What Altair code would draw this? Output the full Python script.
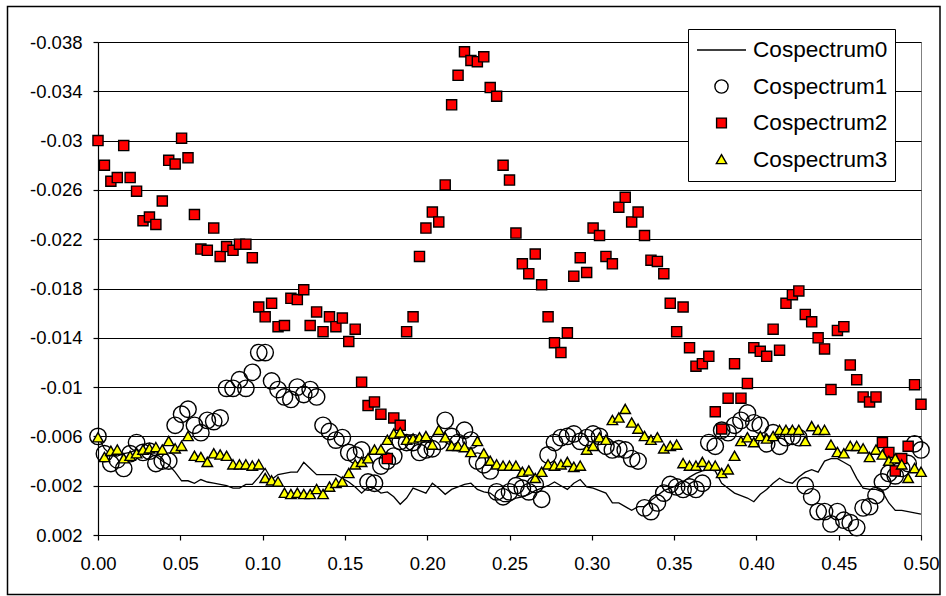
import altair as alt
import pandas as pd

# ---------------- data ----------------
SERIES = ["Cospectrum0", "Cospectrum1", "Cospectrum2", "Cospectrum3"]

# frequency grid: 129 evenly spaced points from 0 to 0.5
FREQ = [i / 256 for i in range(129)]

X_TICKS = [0.0, 0.05, 0.10, 0.15, 0.20, 0.25, 0.30, 0.35, 0.40, 0.45, 0.50]
Y_TICKS = [-0.038, -0.034, -0.030, -0.026, -0.022, -0.018, -0.014,
           -0.010, -0.006, -0.002, 0.002]

COSPEC0 = [
    -0.0060, -0.0050, -0.0045, -0.0044, -0.0046, -0.0047, -0.0049, -0.0047, -0.0046, -0.0044,
    -0.0040, -0.0037, -0.0031, -0.0024, -0.0024, -0.0022, -0.0025, -0.0023, -0.0022, -0.0021,
    -0.0020, -0.0018, -0.0018, -0.0021, -0.0021, -0.0027, -0.0034, -0.0025, -0.0029, -0.0030,
    -0.0031, -0.0031, -0.0039, -0.0034, -0.0029, -0.0029, -0.0029, -0.0029, -0.0026, -0.0023,
    -0.0019, -0.0014, -0.0019, -0.0018, -0.0014, -0.0015, -0.0011, -0.0005, -0.0010, -0.0018,
    -0.0016, -0.0014, -0.0022, -0.0018, -0.0013, -0.0017, -0.0019, -0.0021, -0.0022, -0.0017,
    -0.0015, -0.0014, -0.0010, -0.0007, -0.0007, -0.0010, -0.0011, -0.0013, -0.0016, -0.0018,
    -0.0020, -0.0023, -0.0020, -0.0017, -0.0022, -0.0025, -0.0019, -0.0018, -0.0016, -0.0014,
    -0.0006, -0.0006, -0.0003, 0.0000, -0.0003, -0.0003, -0.0008, -0.0012, -0.0016, -0.0018,
    -0.0020, -0.0023, -0.0027, -0.0030, -0.0032, -0.0033, -0.0032, -0.0022, -0.0018, -0.0014,
    -0.0012, -0.0010, -0.0007, -0.0013, -0.0017, -0.0022, -0.0026, -0.0023, -0.0022, -0.0027,
    -0.0031, -0.0033, -0.0031, -0.0040, -0.0042, -0.0042, -0.0039, -0.0036, -0.0026, -0.0018,
    -0.0017, -0.0017, -0.0015, -0.0006, 0.0000, 0.0000, 0.0001, 0.0002, 0.0003,
]

COSPEC1 = [
    -0.0060, -0.0046, -0.0038, -0.0041, -0.0034, -0.0046, -0.0055, -0.0047, -0.0048, -0.0038,
    -0.0040, -0.0040, -0.0069, -0.0078, -0.0082, -0.0069, -0.0063, -0.0073, -0.0072, -0.0075,
    -0.0099, -0.0099, -0.0106, -0.0099, -0.0112, -0.0128, -0.0128, -0.0105, -0.0098, -0.0092,
    -0.0090, -0.0100, -0.0094, -0.0098, -0.0092, -0.0069, -0.0064, -0.0057, -0.0059, -0.0047,
    -0.0045, -0.0049, -0.0023, -0.0022, -0.0036, -0.0040, -0.0044, -0.0056, -0.0055, -0.0055,
    -0.0047, -0.0049, -0.0050, -0.0056, -0.0073, -0.0060, -0.0055, -0.0065, -0.0057, -0.0040,
    -0.0037, -0.0032, -0.0015, -0.0011, -0.0015, -0.0020, -0.0018, -0.0015, -0.0021, -0.0009,
    -0.0045, -0.0055, -0.0059, -0.0060, -0.0062, -0.0056, -0.0059, -0.0062, -0.0060, -0.0052,
    -0.0049, -0.0050, -0.0049, -0.0042, -0.0040, -0.0002, 0.0001, -0.0006, -0.0014, -0.0021,
    -0.0019, -0.0017, -0.0019, -0.0017, -0.0022, -0.0055, -0.0052, -0.0065, -0.0063, -0.0069,
    -0.0073, -0.0079, -0.0071, -0.0069, -0.0054, -0.0063, -0.0052, -0.0059, -0.0060, -0.0059,
    -0.0020, -0.0011, 0.0001, 0.0001, 0.0011, 0.0001, 0.0008, 0.0010, 0.0014, -0.0002,
    -0.0003, -0.0012, -0.0023, -0.0030, -0.0028, -0.0034, -0.0038, -0.0054, -0.0049,
]

COSPEC2 = [
    -0.0300, -0.0280, -0.0267, -0.0270, -0.0296, -0.0270, -0.0259, -0.0235, -0.0238, -0.0232,
    -0.0251, -0.0284, -0.0281, -0.0302, -0.0286, -0.0240, -0.0212, -0.0211, -0.0229, -0.0206,
    -0.0214, -0.0211, -0.0216, -0.0216, -0.0205, -0.0165, -0.0157, -0.0168, -0.0149, -0.0150,
    -0.0172, -0.0171, -0.0179, -0.0150, -0.0161, -0.0145, -0.0157, -0.0149, -0.0156, -0.0137,
    -0.0147, -0.0104, -0.0085, -0.0088, -0.0078, -0.0042, -0.0075, -0.0069, -0.0145, -0.0157,
    -0.0206, -0.0229, -0.0242, -0.0234, -0.0264, -0.0329, -0.0353, -0.0372, -0.0365, -0.0364,
    -0.0368, -0.0343, -0.0336, -0.0280, -0.0268, -0.0225, -0.0200, -0.0192, -0.0208, -0.0183,
    -0.0157, -0.0136, -0.0128, -0.0144, -0.0190, -0.0205, -0.0193, -0.0229, -0.0223, -0.0206,
    -0.0200, -0.0246, -0.0254, -0.0234, -0.0242, -0.0223, -0.0203, -0.0202, -0.0192, -0.0168,
    -0.0145, -0.0165, -0.0132, -0.0117, -0.0119, -0.0125, -0.0080, -0.0066, -0.0091, -0.0119,
    -0.0091, -0.0103, -0.0132, -0.0129, -0.0125, -0.0147, -0.0130, -0.0168, -0.0175, -0.0178,
    -0.0159, -0.0153, -0.0140, -0.0131, -0.0098, -0.0146, -0.0149, -0.0118, -0.0106, -0.0092,
    -0.0088, -0.0092, -0.0055, -0.0047, -0.0032, -0.0042, -0.0052, -0.0102, -0.0086,
]

COSPEC3 = [
    -0.0059, -0.0043, -0.0048, -0.0049, -0.0042, -0.0044, -0.0046, -0.0049, -0.0050, -0.0051,
    -0.0049, -0.0056, -0.0050, -0.0052, -0.0060, -0.0044, -0.0043, -0.0039, -0.0046, -0.0045,
    -0.0044, -0.0037, -0.0037, -0.0037, -0.0036, -0.0037, -0.0026, -0.0024, -0.0023, -0.0014,
    -0.0013, -0.0014, -0.0013, -0.0013, -0.0017, -0.0013, -0.0019, -0.0022, -0.0023, -0.0030,
    -0.0037, -0.0039, -0.0042, -0.0049, -0.0049, -0.0057, -0.0062, -0.0063, -0.0057, -0.0058,
    -0.0059, -0.0060, -0.0053, -0.0065, -0.0059, -0.0052, -0.0052, -0.0051, -0.0047, -0.0056,
    -0.0046, -0.0040, -0.0037, -0.0036, -0.0036, -0.0036, -0.0031, -0.0032, -0.0026, -0.0031,
    -0.0037, -0.0036, -0.0037, -0.0039, -0.0035, -0.0036, -0.0049, -0.0052, -0.0059, -0.0057,
    -0.0073, -0.0075, -0.0082, -0.0071, -0.0066, -0.0060, -0.0057, -0.0059, -0.0050, -0.0052,
    -0.0053, -0.0038, -0.0036, -0.0036, -0.0039, -0.0036, -0.0036, -0.0030, -0.0033, -0.0044,
    -0.0056, -0.0059, -0.0055, -0.0060, -0.0058, -0.0060, -0.0065, -0.0065, -0.0065, -0.0065,
    -0.0056, -0.0068, -0.0065, -0.0065, -0.0053, -0.0047, -0.0046, -0.0052, -0.0052, -0.0050,
    -0.0043, -0.0049, -0.0045, -0.0040, -0.0042, -0.0037, -0.0026, -0.0034, -0.0031,
]

# ---------------- tables ----------------
line_df = pd.DataFrame({"f": FREQ, "v": COSPEC0})


def series_df(name, vals):
    return pd.DataFrame({"f": FREQ, "v": vals, "series": [name] * len(vals)})


FONT = "Liberation Sans"

# symbol outlines in Vega's [-1, 1] unit space (scaled by sqrt(size)/2)
LINE_PATH = "M-1,0L1,0"
CIRCLE_PATH = "M0.27,0A0.27,0.27 0 1,1 -0.27,0A0.27,0.27 0 1,1 0.27,0Z"
SQUARE_PATH = "M-0.2,-0.2L0.2,-0.2L0.2,0.2L-0.2,0.2Z"
TRIANGLE_PATH = "M0,-0.2L0.21,0.17L-0.21,0.17Z"

x_enc = alt.X(
    "f:Q",
    scale=alt.Scale(domain=[0, 0.5], nice=False, zero=False),
    axis=alt.Axis(values=X_TICKS, format=".2f", grid=False, title=None,
                  labelFontSize=18.5, labelPadding=14, tickSize=5,
                  labelFlush=False, labelOverlap=False),
)
y_enc = alt.Y(
    "v:Q",
    scale=alt.Scale(domain=[-0.038, 0.002], reverse=True, nice=False, zero=False),
    axis=alt.Axis(values=Y_TICKS, grid=True, title=None,
                  labelExpr="datum.value < 0 ? '-' + format(-datum.value, '~g') : format(datum.value, '~g')",
                  labelFontSize=18.5, labelPadding=11, tickSize=5,
                  labelFlush=False, labelOverlap=False),
)

legend = alt.Legend(
    title=None, orient="none", legendX=590, legendY=-13,
    fillColor="white", strokeColor="black", padding=7,
    labelFont=FONT, labelFontSize=22.6, labelColor="black", labelLimit=0,
    labelOffset=6, clipHeight=28, rowPadding=8.5,
    symbolSize=2401, symbolStrokeColor="black", symbolStrokeWidth=1.4, symbolOffset=1,
)

shape_enc = alt.Shape("series:N", scale=alt.Scale(
    domain=SERIES, range=[LINE_PATH, CIRCLE_PATH, SQUARE_PATH, TRIANGLE_PATH]), legend=legend)
fill_enc = alt.Fill("series:N", scale=alt.Scale(
    domain=SERIES, range=["transparent", "transparent", "#ff0000", "#ffff00"]), legend=legend)
stroke_enc = alt.Stroke("series:N", scale=alt.Scale(
    domain=SERIES, range=["black", "black", "black", "black"]), legend=legend)

border = alt.Chart(pd.DataFrame({"a": [0]})).mark_rect(
    fill="transparent", stroke="black", strokeWidth=1.5
).encode(
    x=alt.value(-90.5), x2=alt.value(842), y=alt.value(-35.5), y2=alt.value(552.5)
)

line = alt.Chart(line_df).mark_line(color="black", strokeWidth=1.3).encode(
    x=x_enc, y=y_enc
)


def point_layer(name, vals, size):
    return alt.Chart(series_df(name, vals)).mark_point(
        filled=True, opacity=1, strokeWidth=1.4, size=size
    ).encode(x=x_enc, y=y_enc, shape=shape_enc, fill=fill_enc, stroke=stroke_enc)


circles = point_layer("Cospectrum1", COSPEC1, 3700)
squares = point_layer("Cospectrum2", COSPEC2, 2550)
triangles = point_layer("Cospectrum3", COSPEC3, 2500)

chart = alt.layer(border, line, circles, squares, triangles).properties(
    width=823, height=493,
    autosize=alt.AutoSizeParams(type="none"),
    padding={"left": 98, "top": 42, "right": 25, "bottom": 61},
    background="white",
).configure_view(
    stroke="#808080", strokeWidth=1
).configure_axis(
    labelFont=FONT, labelColor="black", domainColor="black", tickColor="black",
    gridColor="black", gridWidth=1, domainWidth=1.2, tickWidth=1.2,
).configure_legend(
    labelFont=FONT
)

chart.save("out.html", embed_options={"renderer": "svg", "actions": False})
